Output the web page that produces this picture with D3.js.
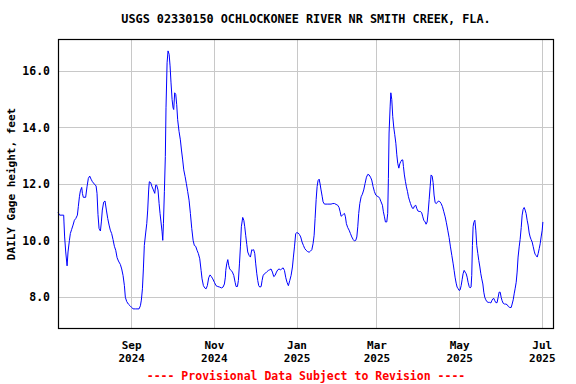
<!DOCTYPE html>
<meta charset="utf-8">
<style>
body { margin: 0; background: #fff; }
text { font-family: "DejaVu Sans Mono", monospace; font-weight: bold; }
.grid line { stroke: #c8c8c8; stroke-width: 1; }
</style>
<svg width="576" height="384"></svg>
<script src="https://cdn.jsdelivr.net/npm/d3@7"></script>
<script>
// daily gage height (days counted from 2024-07-09)
var startDay = "2024-07-09";
var days = [0.0,1.2,4.2,4.4,4.9,5.7,6.7,7.4,8.4,9.1,10.1,11.1,12.1,13.1,14.3,15.0,15.8,16.5,17.5,18.0,18.7,20.4,21.4,22.4,23.4,24.4,25.4,26.8,28.1,28.8,29.5,30.3,31.3,32.0,32.7,33.7,34.7,35.7,36.7,37.7,38.6,39.6,40.6,41.6,42.6,43.6,44.6,46.0,47.0,48.0,49.0,49.7,50.7,51.9,53.2,54.4,55.4,57.3,59.8,60.8,61.5,
  62.3,63.0,63.7,64.7,65.5,66.2,66.9,67.4,68.4,69.4,70.4,71.4,72.1,72.8,73.8,74.6,75.3,76.0,76.8,77.3,77.8,78.5,79.2,79.7,80.5,81.2,82.0,82.7,83.4,84.2,84.9,85.4,86.1,86.9,87.6,88.3,89.3,90.3,91.1,92.0,92.8,93.8,94.7,95.7,96.7,97.7,98.7,99.7,100.6,101.6,102.6,103.6,104.6,105.6,106.3,107.3,108.3,109.3,110.2,111.2,112.2,113.2,114.2,115.4,116.6,117.9,119.3,120.6,121.8,122.8,123.5,
  123.8,124.5,125.3,126.0,126.7,127.7,128.7,129.7,130.7,131.4,132.4,133.1,133.9,134.6,135.3,136.3,137.1,137.8,138.5,139.3,140.0,141.0,142.0,143.0,143.7,144.4,145.2,145.9,146.7,147.4,148.1,148.9,149.9,150.6,151.3,152.3,153.3,154.3,155.3,156.2,157.2,158.2,159.2,160.2,161.2,162.2,163.1,164.1,165.1,166.1,167.1,168.1,169.0,170.0,171.0,172.0,173.0,173.7,174.5,175.4,176.2,177.2,178.1,179.1,180.1,181.1,182.1,183.1,184.0,
  185.3,186.3,187.3,188.2,189.0,189.7,190.5,191.2,191.9,192.7,193.4,194.1,194.9,195.6,196.6,199.1,201.5,202.8,204.0,205.2,206.4,207.4,208.2,208.9,209.9,210.6,211.4,212.1,212.8,213.8,214.8,215.8,216.8,217.8,218.7,219.7,220.5,221.2,221.9,222.7,223.7,224.6,225.6,226.6,227.6,228.6,229.6,230.6,231.5,232.5,233.5,234.5,235.5,236.5,237.4,238.4,239.4,240.1,240.9,241.6,242.6,243.3,243.8,244.3,245.1,245.6,
  246.3,247.0,247.8,248.5,249.3,250.0,250.7,251.5,252.2,252.9,253.7,254.4,254.9,255.6,256.4,257.1,257.9,258.6,259.3,260.1,260.8,261.6,262.3,263.0,264.0,264.7,265.5,266.5,267.5,268.4,269.2,269.9,270.9,271.6,272.4,273.1,273.9,274.6,275.3,276.1,276.8,277.5,278.3,279.0,279.8,280.7,281.7,282.7,283.7,284.7,285.7,286.6,287.6,288.6,289.6,290.6,291.6,292.3,293.0,293.8,294.5,295.3,296.0,296.7,297.5,298.2,298.9,299.7,300.4,301.2,301.9,302.6,303.4,304.1,304.8,305.3,305.8,306.3,306.8,307.6,
  308.3,309.0,309.8,310.5,311.3,312.0,312.7,313.5,314.2,314.9,315.7,316.4,317.4,318.4,319.4,320.1,320.8,321.6,322.3,323.1,324.0,324.8,325.5,326.3,327.0,327.7,328.5,329.5,330.4,331.4,332.4,333.4,334.4,335.1,335.9,336.6,337.3,338.1,338.8,339.5,340.3,341.0,341.8,342.5,343.2,344.0,344.7,345.4,346.2,346.9,347.7,348.4,349.1,349.9,350.6,351.4,352.1,352.8,353.6,354.3,355.1,355.8,356.5,357.3,357.8];
var gage = [11.0,10.9,10.9,10.66,10.13,9.6,9.11,9.6,10.0,10.25,10.4,10.55,10.72,10.78,10.9,11.2,11.55,11.76,11.88,11.67,11.53,11.53,11.9,12.2,12.28,12.17,12.08,12.0,11.93,11.67,10.93,10.43,10.34,10.66,11.08,11.36,11.4,11.08,10.78,10.55,10.37,10.25,10.04,9.8,9.66,9.4,9.28,9.16,9.0,8.77,8.41,8.0,7.85,7.76,7.7,7.64,7.59,7.59,7.59,7.7,7.9,
  8.3,9.0,9.83,10.27,10.6,11.08,11.79,12.08,12.05,11.9,11.79,11.67,11.96,11.96,11.79,11.31,10.96,10.66,10.31,10.01,10.6,11.73,12.97,14.69,16.28,16.7,16.58,16.17,15.57,14.98,14.69,14.63,15.22,15.16,14.8,14.27,13.86,13.56,13.2,12.85,12.5,12.26,12.02,11.73,11.43,10.96,10.43,10.01,9.83,9.8,9.66,9.54,9.36,8.95,8.65,8.41,8.33,8.3,8.41,8.69,8.79,8.73,8.65,8.53,8.41,8.38,8.36,8.33,8.36,8.47,8.71,
  8.95,9.18,9.33,9.12,9.0,8.95,8.89,8.77,8.53,8.38,8.38,8.59,9.18,9.78,10.49,10.82,10.72,10.49,10.19,9.87,9.6,9.48,9.42,9.68,9.66,9.68,9.54,9.18,8.83,8.59,8.41,8.36,8.38,8.59,8.76,8.83,8.86,8.91,8.95,8.97,9.0,8.89,8.73,8.77,8.89,8.97,9.0,8.97,9.0,9.04,8.95,8.69,8.53,8.41,8.59,8.77,9.07,9.42,9.78,10.25,10.28,10.27,10.22,10.13,9.95,9.83,9.72,9.66,9.62,
  9.59,9.63,9.68,9.89,10.19,10.78,11.46,11.91,12.12,12.17,12.0,11.79,11.57,11.37,11.29,11.29,11.29,11.31,11.31,11.28,11.25,11.17,11.02,10.86,10.9,10.93,10.96,10.84,10.6,10.46,10.37,10.25,10.13,10.04,9.99,10.01,10.13,10.49,10.96,11.31,11.55,11.64,11.79,12.02,12.24,12.34,12.32,12.24,12.14,11.91,11.73,11.61,11.57,11.55,11.49,11.37,11.25,11.02,10.84,10.66,10.66,10.96,12.2,13.8,14.75,15.22,
  14.98,14.39,13.98,13.74,13.44,13.03,12.73,12.56,12.71,12.79,12.85,12.85,12.62,12.32,12.08,11.9,11.73,11.55,11.43,11.31,11.22,11.14,11.14,11.22,11.25,11.14,11.05,11.03,11.03,10.98,10.84,10.72,10.66,10.58,10.66,10.98,11.46,11.9,12.32,12.28,12.05,11.61,11.34,11.31,11.34,11.4,11.38,11.31,11.2,11.02,10.84,10.63,10.37,10.11,9.78,9.48,9.18,8.95,8.71,8.5,8.36,8.3,8.24,8.26,8.41,8.62,8.83,8.95,8.89,8.83,8.71,8.53,8.38,8.33,8.36,8.77,9.83,10.49,10.64,10.72,
  10.37,9.83,9.54,9.3,9.07,8.83,8.65,8.47,8.18,8.0,7.91,7.85,7.82,7.82,7.8,7.88,7.94,7.96,7.88,7.81,7.81,8.0,8.18,8.18,8.0,7.88,7.79,7.76,7.76,7.74,7.67,7.64,7.64,7.76,7.91,8.12,8.3,8.53,8.89,9.42,9.78,10.04,10.46,10.9,11.1,11.17,11.08,10.96,10.72,10.55,10.27,10.13,10.04,9.95,9.8,9.63,9.51,9.48,9.42,9.54,9.72,9.89,10.13,10.37,10.66];

var yTicks = [8, 10, 12, 14, 16];
var xTicks = ["2024-09-01", "2024-11-01", "2025-01-01", "2025-03-01", "2025-05-01", "2025-07-01"];
var xDomain = ["2024-07-09", "2025-07-10"];
var yDomain = [6.88, 17.12];
var title = "USGS 02330150 OCHLOCKONEE RIVER NR SMITH CREEK, FLA.";
var yLabel = "DAILY Gage height, feet";
var footer = "---- Provisional Data Subject to Revision ----";

var svg = d3.select("svg"),
    width = +svg.attr("width"),
    height = +svg.attr("height");
var margin = {top: 39, right: 22, bottom: 55, left: 58};
var parse = d3.utcParse("%Y-%m-%d");
var t0 = parse(startDay);

var x = d3.scaleUtc()
    .domain(xDomain.map(parse))
    .range([margin.left, width - margin.right]);
var y = d3.scaleLinear()
    .domain(yDomain)
    .range([height - margin.bottom, margin.top]);

var data = days.map(function(d, i) {
  return {date: new Date(t0.getTime() + d * 864e5), value: gage[i]};
});
var tickDates = xTicks.map(parse);

// grid
var grid = svg.append("g").attr("class", "grid");
grid.selectAll(".h").data(yTicks).enter().append("line")
    .attr("x1", margin.left).attr("x2", width - margin.right)
    .attr("y1", d => Math.round(y(d)) + 0.5).attr("y2", d => Math.round(y(d)) + 0.5);
grid.selectAll(".v").data(tickDates).enter().append("line")
    .attr("x1", d => Math.round(x(d)) + 0.5).attr("x2", d => Math.round(x(d)) + 0.5)
    .attr("y1", margin.top).attr("y2", height - margin.bottom);

// the series
svg.append("path")
    .datum(data)
    .attr("fill", "none")
    .attr("stroke", "#0000ff")
    .attr("stroke-width", 1)
    .attr("d", d3.line().x(d => x(d.date)).y(d => y(d.value)));

// frame
svg.append("rect")
    .attr("x", margin.left + 0.5).attr("y", margin.top + 0.5)
    .attr("width", width - margin.left - margin.right - 1)
    .attr("height", height - margin.top - margin.bottom - 1)
    .attr("fill", "none").attr("stroke", "#000").attr("stroke-width", 1.2);

// axes
var yAxis = svg.append("g")
    .attr("transform", "translate(" + (margin.left - 8) + ",0)")
    .call(d3.axisLeft(y).tickValues(yTicks).tickFormat(d3.format(".1f")).tickSize(0).tickPadding(0));
yAxis.select(".domain").remove();
yAxis.selectAll("text").attr("font-size", "11.5px").attr("fill", "#000")
    .style("font-family", "DejaVu Sans Mono").style("font-weight", "bold");

var xAxis = svg.append("g")
    .attr("transform", "translate(0," + (height - margin.bottom) + ")")
    .call(d3.axisBottom(x).tickValues(tickDates).tickSize(0).tickFormat(""));
xAxis.select(".domain").remove();
// month and year on two lines, as separate texts
xAxis.selectAll(".tick").each(function(d) {
  var t = d3.select(this);
  t.append("text").attr("fill", "#000").attr("font-size", "11px").attr("text-anchor", "middle")
      .attr("y", 20).text(d3.utcFormat("%b")(d));
  t.append("text").attr("fill", "#000").attr("font-size", "11px").attr("text-anchor", "middle")
      .attr("y", 33).text(d3.utcFormat("%Y")(d));
});

// texts
svg.append("text")
    .attr("x", (margin.left + width - margin.right) / 2).attr("y", 23)
    .attr("text-anchor", "middle").attr("font-size", "11.8px")
    .text(title);
svg.append("text")
    .attr("transform", "translate(15," + (margin.top + height - margin.bottom) / 2 + ") rotate(-90)")
    .attr("text-anchor", "middle").attr("font-size", "11px")
    .text(yLabel);
svg.append("text")
    .attr("x", (margin.left + width - margin.right) / 2).attr("y", 380)
    .attr("text-anchor", "middle").attr("font-size", "11.5px").attr("fill", "#ff0000")
    .text(footer);
</script>
